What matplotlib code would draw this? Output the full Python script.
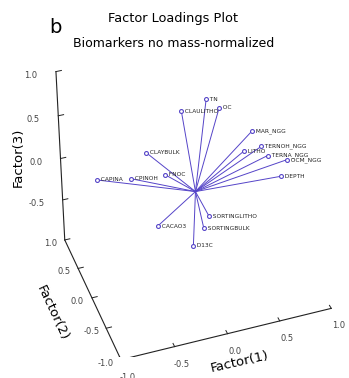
import numpy as np
import matplotlib
matplotlib.use('Agg')
import matplotlib.pyplot as plt

# ---- data: factor loadings (estimated) ----
variables = ['TN', 'CLAULITHO', 'OC', 'MAR_NGG', 'TERNOH_NGG', 'LITHO', 'TERNA_NGG',
             'OCM_NGG', 'DEPTH', 'CLAYBULK', 'FNOC', 'CPINOH', 'CAPINA',
             'SORTINGLITHO', 'CACAO3', 'SORTINGBULK', 'D13C']
factor1 = [0.16, -0.04, 0.25, 0.63, 0.69, 0.42, 0.72, 0.91, 0.79, -0.40, -0.23, -0.55, -0.86,
           0.13, -0.36, 0.08, -0.02]
factor2 = [0.20, 0.30, 0.10, 0.30, 0.20, -0.10, 0.10, 0.10, -0.10, 0.20, 0.20, 0.20, 0.20,
           0.00, 0.00, 0.00, 0.00]
factor3 = [0.89, 0.74, 0.83, 0.34, 0.21, 0.42, 0.16, 0.06, 0.03, 0.43, 0.13, 0.17, 0.24,
           -0.33, -0.31, -0.46, -0.65]
ticks = [-1.0, -0.5, 0.0, 0.5, 1.0]
tick_labels = ['-1.0', '-0.5', '0.0', '0.5', '1.0']

line_color = '#5544c8'
axis_color = '#222222'

fig = plt.figure(figsize=(3.49, 3.78), dpi=100)
ax = fig.add_axes([0.0476, 0.0567, 1.0, 0.85], projection='3d', proj_type='persp',
                  focal_length=1.2)
ax.set_axis_off()
ax.set_xlim(-1, 1)
ax.set_ylim(-1, 1)
ax.set_zlim(-1, 1)
ax.set_box_aspect((1.046, 0.898, 1.022), zoom=1.11)
ax.view_init(elev=39.3, azim=-109.5)

# axis lines
ax.plot([-1, 1], [-1, -1], [-1, -1], color=axis_color, lw=0.8)
ax.plot([-1, -1], [-1, 1], [-1, -1], color=axis_color, lw=0.8)
ax.plot([-1, -1], [1, 1], [-1, 1], color=axis_color, lw=0.8)
tl = 0.05
for t, s in zip(ticks, tick_labels):
    # factor 1 ticks
    ax.plot([t, t], [-1, -1 + tl], [-1, -1], color=axis_color, lw=0.7)
    ax.text(t, -1.22, -1.05, s, fontsize=6, color='#444444', rotation=20,
            ha='center', va='center')
    # factor 2 ticks
    ax.plot([-1, -1 + tl], [t, t], [-1, -1], color=axis_color, lw=0.7)
    ax.text(-1.14, t, -1.0, s, fontsize=6, color='#444444', rotation=35,
            ha='center', va='center')
    # factor 3 ticks
    if t > -1:
        ax.plot([-1, -1 + tl], [1, 1], [t, t], color=axis_color, lw=0.7)
        ax.text(-1.17, 1, t, s, fontsize=6, color='#444444', ha='right', va='center')

# loading vectors
for name, a, b, c in zip(variables, factor1, factor2, factor3):
    ax.plot([0, a], [0, b], [0, c], color=line_color, lw=0.7)
    ax.plot([a], [b], [c], marker='o', ms=2.8, mfc='white', mec=line_color, mew=0.8)
    ax.text(a, b, c, '  ' + name, fontsize=4.2, color='#222222', ha='left', va='center')

fig.text(0.16, 0.926, 'b', fontsize=14, ha='center', va='center')
fig.text(0.497, 0.95, 'Factor Loadings Plot', fontsize=9.3, ha='center', va='center')
fig.text(0.497, 0.886, 'Biomarkers no mass-normalized', fontsize=9.0, ha='center', va='center')
fig.text(0.688, 0.042, 'Factor(1)', fontsize=9.5, rotation=13, ha='center', va='center')
fig.text(0.15, 0.172, 'Factor(2)', fontsize=9.5, rotation=-65, ha='center', va='center')
fig.text(0.052, 0.585, 'Factor(3)', fontsize=9.5, rotation=90, ha='center', va='center')

fig.savefig('out.png', dpi=100)
